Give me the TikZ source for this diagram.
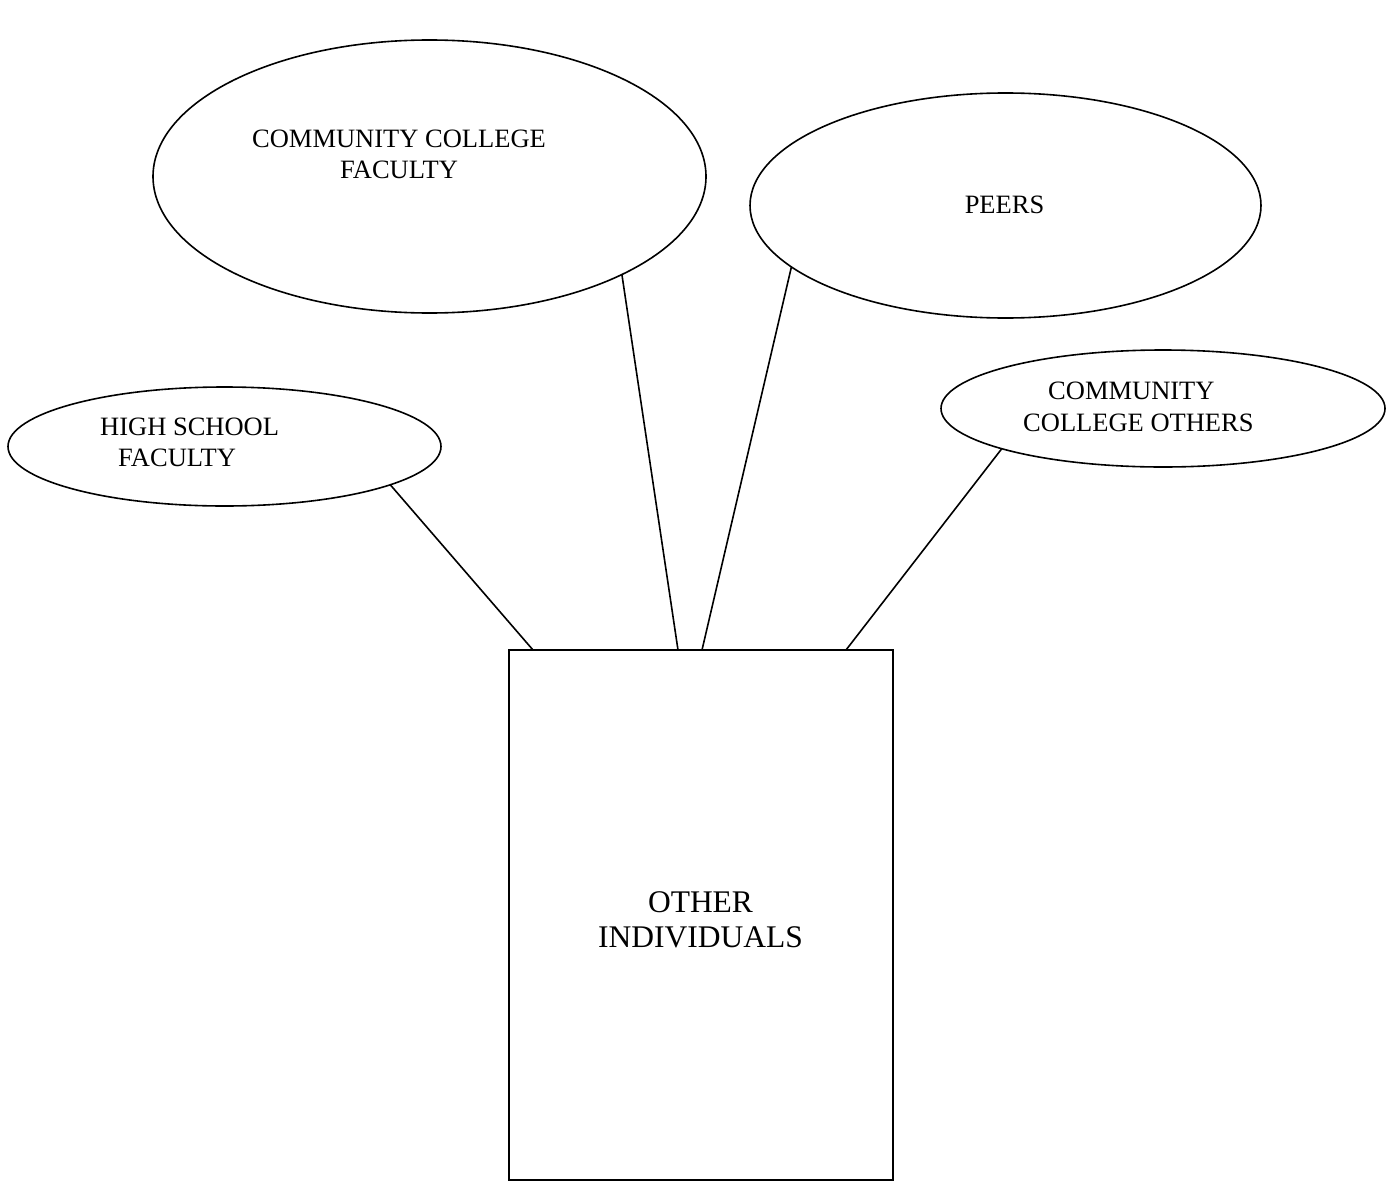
\documentclass[tikz,border=0pt]{standalone}
\usepackage{fontspec}
\setmainfont{Liberation Serif}
\usetikzlibrary{shapes.geometric,calc}
\begin{document}
\begin{tikzpicture}[x=1pt,y=-1pt,
  oval/.style={draw,ellipse,line width=1.6pt,inner sep=0pt,outer sep=0pt},
  lbl/.style={inner sep=0pt,font=\fontsize{26.5}{31.5}\selectfont},
  biglbl/.style={inner sep=0pt,font=\fontsize{31.5}{35}\selectfont,align=center},
  conn/.style={line width=1.6pt}]
\useasboundingbox (0,0) rectangle (1388,1180);
\fill[white] (0,0) rectangle (1388,1180);
\clip (0,0) rectangle (1388,1180);
% ellipses
\node[oval,minimum width=553pt,minimum height=273pt] (ccf) at (429.5,176.5) {};
\node[oval,minimum width=511pt,minimum height=225pt] (peers) at (1005.5,205.5) {};
\node[oval,minimum width=433pt,minimum height=119pt] (hs) at (224.5,446.5) {};
\node[oval,minimum width=444pt,minimum height=117pt] (cco) at (1163,408.5) {};
% box
\node[draw,line width=1.6pt,rectangle,minimum width=384pt,minimum height=530pt,inner sep=0pt,outer sep=0pt] (box) at (701,915) {};
% labels
\node[lbl,align=center] (ccft) at (399,154.5) {COMMUNITY COLLEGE\\FACULTY};
\node[lbl] (peerst) at (1004.5,205) {PEERS};
\node[lbl,align=left,anchor=west] (hst) at (100,442.5) {HIGH SCHOOL\\\hspace*{18pt}FACULTY};
\node[lbl,align=left,anchor=west] (ccot) at (1023,407) {\hspace*{25pt}COMMUNITY\\COLLEGE OTHERS};
\node[biglbl] (boxt) at (700.5,920) {OTHER\\INDIVIDUALS};
% connectors
\draw[conn] (hs.-13.4) -- ([xshift=24pt]box.north west);
\draw[conn] (ccf.-27.6) -- ([xshift=169pt]box.north west);
\draw[conn] (peers.196.8) -- ([xshift=193pt]box.north west);
\draw[conn] (cco.194.5) -- ([xshift=337pt]box.north west);
\end{tikzpicture}
\end{document}
